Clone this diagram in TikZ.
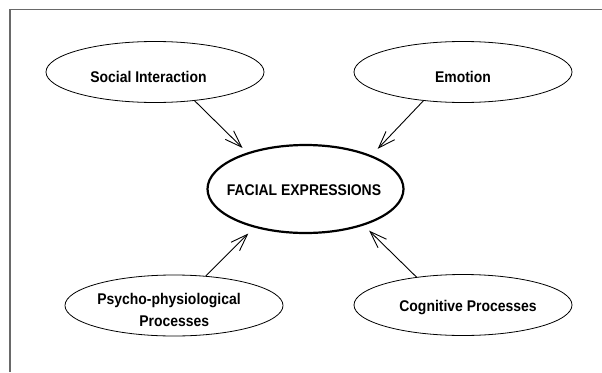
\documentclass[tikz,border=0pt]{standalone}
\usepackage{fontspec}
\setmainfont{Liberation Sans}[FakeStretch=0.9]
\usetikzlibrary{shapes.geometric,arrows.meta}
\definecolor{rulegray}{RGB}{105,105,105}
\begin{document}
\begin{tikzpicture}[x=1pt,y=-1pt,
  bubble/.style={draw=black, ellipse, line width=0.8pt, inner sep=0pt,
                 minimum width=218pt, minimum height=61pt},
  hub/.style={draw=black, ellipse, line width=2.2pt, inner sep=0pt,
              minimum width=196pt, minimum height=88pt},
  caption/.style={anchor=base, inner sep=0pt,
                  font=\fontsize{15.5}{18}\selectfont\bfseries},
  feed/.style={draw=black, line width=0.9pt,
               -{Straight Barb[length=17pt,width=12pt]}},
  frameline/.style={draw=rulegray, line width=1.5pt}]
\useasboundingbox (0,0) rectangle (602,372);

% open frame: left and top rules only
\draw[frameline] (10,372) -- (10,9.5) -- (602,9.5);

% outlines
\node[bubble] (social)    at (155,72)    {};
\node[bubble] (emotion)   at (463,72)    {};
\node[hub]    (facial)    at (305.5,189) {};
\node[bubble] (psycho)    at (174,305.5) {};
\node[bubble] (cognitive) at (463,305)   {};

% labels
\node[caption] (socialtext)    at (148.5,82.7) {Social Interaction};
\node[caption] (emotiontext)   at (463,82.7)   {Emotion};
\node[caption] (facialtext)    at (304,195.5)  {FACIAL EXPRESSIONS};
\node[caption] (psychotextA)   at (169,304.2)  {Psycho-physiological};
\node[caption] (psychotextB)   at (174.3,326.8){Processes};
\node[caption] (cognitivetext) at (468,311.5)  {Cognitive Processes};

% influences on facial expressions
\draw[feed, shorten >=6.5pt] (social.-36.4)    -- (facial.148.5);
\draw[feed, shorten >=9pt]   (emotion.-144)    -- (facial.27.7);
\draw[feed, shorten >=8.4pt] (psycho.43)       -- (facial.217.2);
\draw[feed, shorten >=7.4pt] (cognitive.149.2) -- (facial.-32);
\end{tikzpicture}
\end{document}
